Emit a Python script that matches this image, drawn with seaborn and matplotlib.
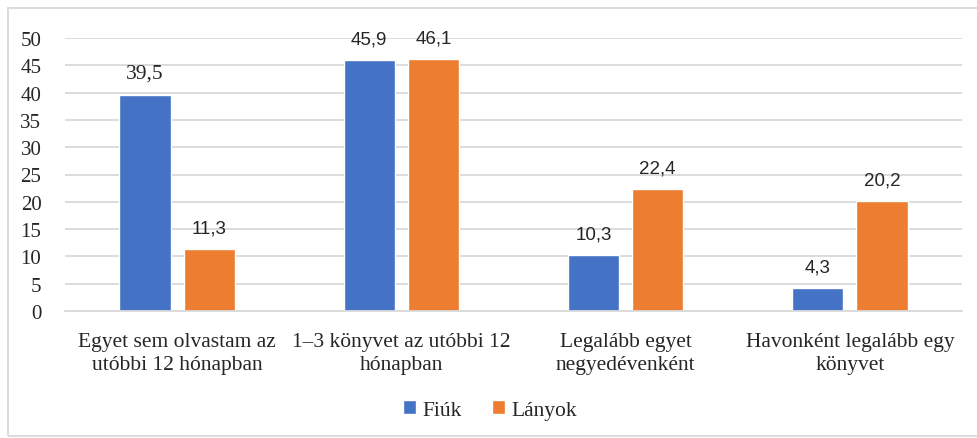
import pandas as pd
import seaborn as sns
import matplotlib.pyplot as plt
from matplotlib.patches import Rectangle

categories = ["Egyet sem olvastam az\nutóbbi 12 hónapban",
              "1–3 könyvet az utóbbi 12\nhónapban",
              "Legalább egyet\nnegyedévenként",
              "Havonként legalább egy\nkönyvet"]
fiuk = [39.5, 45.9, 10.3, 4.3]
lanyok = [11.3, 46.1, 22.4, 20.2]
series = ["Fiúk", "Lányok"]
colors = ["#4472C4", "#ED7D31"]
yticks = list(range(0, 55, 5))

df = pd.DataFrame({
    "cat": categories * 2,
    "val": fiuk + lanyok,
    "nem": [series[0]] * 4 + [series[1]] * 4,
})

sns.set_theme(style="white")
serif = ["Liberation Serif", "DejaVu Serif"]
sans = ["Liberation Sans", "DejaVu Sans"]

fig = plt.figure(figsize=(9.78, 4.39), dpi=100)
ax = fig.add_axes([65 / 978, 1 - 312 / 439, 897 / 978, 273 / 439])

sns.barplot(data=df, x="cat", y="val", hue="nem", palette=colors,
            width=0.572, gap=0.2, ax=ax, saturation=1, legend=True)

ax.set_ylim(0, 50)
ax.set_yticks(yticks)
ax.set_yticklabels([str(t) for t in yticks], fontfamily=serif, fontsize=15)
ax.set_xticklabels(categories, fontfamily=serif, fontsize=15.5, linespacing=1.3)
ax.tick_params(axis="y", length=0, pad=17)
ax.tick_params(axis="x", length=0, pad=15)
ax.set_xlabel("")
ax.set_ylabel("")
ax.yaxis.grid(True, color="#D9D9D9", linewidth=1.3)
ax.set_axisbelow(True)
for s in ["top", "right", "left"]:
    ax.spines[s].set_visible(False)
ax.spines["bottom"].set_color("#D9D9D9")
ax.spines["bottom"].set_linewidth(1.3)

for i, cont in enumerate(ax.containers):
    for j, bar in enumerate(cont):
        v = bar.get_height()
        first = (i == 0 and j == 0)
        ax.annotate(f"{v:.1f}".replace(".", ","),
                    (bar.get_x() + bar.get_width() / 2, v),
                    xytext=(0, 9), textcoords="offset points",
                    ha="center", va="bottom",
                    fontsize=15.5 if first else 13.5,
                    fontfamily=serif if first else sans,
                    color="#262626")

leg = ax.legend(loc="center", bbox_to_anchor=(490 / 978, 1 - 411 / 439),
                bbox_transform=fig.transFigure, ncol=2, frameon=False,
                prop={"family": serif, "size": 15.5}, handlelength=0.6,
                handleheight=0.6, handletextpad=0.3, columnspacing=1.4)

fig.patches.append(Rectangle((8 / 978, 2 / 439), 975 / 978, 428 / 439,
                             transform=fig.transFigure, fill=False,
                             edgecolor="#D9D9D9", linewidth=1.3))

fig.savefig("out.png", dpi=100)
